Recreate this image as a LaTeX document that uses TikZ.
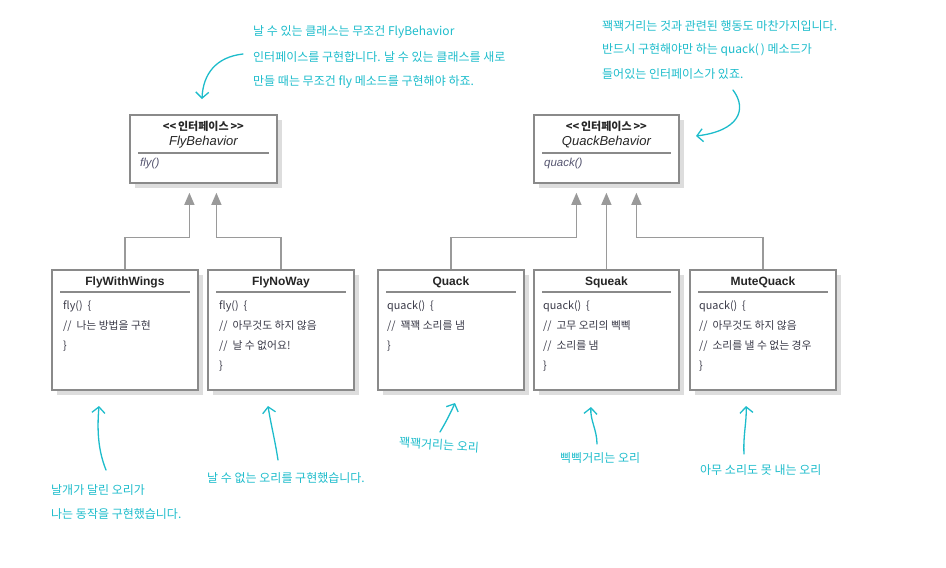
\documentclass[tikz,border=0pt]{standalone}
\usepackage{fontspec}
\setmainfont{Noto Sans CJK KR}
\newfontfamily\latf{Liberation Sans}
\newfontfamily\krf{Noto Sans CJK KR}
\usetikzlibrary{arrows.meta,calc,shadows}
\definecolor{hand}{HTML}{1DBCCB}
\definecolor{bordergray}{HTML}{8A8A8A}
\definecolor{linegray}{HTML}{9A9A9A}
\definecolor{shadowgray}{HTML}{DDDDDD}
\definecolor{codecol}{HTML}{3A3A48}
\definecolor{mcol}{HTML}{555570}
\tikzset{
  umlbox/.style={draw=bordergray, line width=1.8pt, fill=white, inner sep=0pt, anchor=north west,
    drop shadow={shadow xshift=5pt, shadow yshift=-5pt, fill=shadowgray, opacity=1}},
  ctitle/.style={font=\latf\bfseries\fontsize{12}{14}\selectfont, text=black!85, inner sep=0pt},
  ititle/.style={font=\latf\itshape\fontsize{13}{15}\selectfont, text=black!85, inner sep=0pt},
  stereo/.style={font=\krf\bfseries\fontsize{11}{13}\selectfont, text=black!85, inner sep=0pt},
  imeth/.style={font=\latf\itshape\fontsize{11.5}{13}\selectfont, text=mcol, inner sep=0pt, anchor=west},
  code/.style={font=\krf\fontsize{10.8}{12}\selectfont, text=codecol, anchor=west, inner sep=0pt},
  divider/.style={draw=bordergray, line width=1.6pt},
  inh/.style={draw=linegray, line width=1.2pt, -{Triangle[length=12pt,width=10pt,fill=linegray]}},
  handarrow/.style={draw=hand, line width=1.3pt, line cap=round,
    -{Straight Barb[length=6pt,width=13pt,line width=1.3pt]}},
  handtxt/.style={font=\krf\fontsize{12}{14}\selectfont, text=hand, anchor=west, inner sep=0pt},
}
\begin{document}
\begin{tikzpicture}[x=1pt,y=-1pt]
\useasboundingbox (0,0) rectangle (946,568);

% ---------- interface boxes ----------
\node[umlbox, minimum width=147pt, minimum height=68pt] (flyI) at (129,114) {};
\node[stereo] (flyIst) at ($(flyI.north)+(0,12)$) {<{}<\,인터페이스\,>{}>};
\node[ititle] (flyIname) at ($(flyI.north)+(0,28)$) {FlyBehavior};
\draw[divider] ($(flyI.north west)+(9,39)$) -- ($(flyI.north east)+(-9,39)$);
\node[imeth] (flyIm) at ($(flyI.north west)+(11,50)$) {fly()};

\node[umlbox, minimum width=145pt, minimum height=68pt] (quackI) at (533,114) {};
\node[stereo] (quackIst) at ($(quackI.north)+(0,12)$) {<{}<\,인터페이스\,>{}>};
\node[ititle] (quackIname) at ($(quackI.north)+(0,28)$) {QuackBehavior};
\draw[divider] ($(quackI.north west)+(9,39)$) -- ($(quackI.north east)+(-9,39)$);
\node[imeth] (quackIm) at ($(quackI.north west)+(11,50)$) {quack()};

% ---------- class boxes ----------
\node[umlbox, minimum width=146pt, minimum height=120pt] (fww) at (51,269) {};
\node[ctitle] (fwwt) at ($(fww.north)+(0,13)$) {FlyWithWings};
\draw[divider] ($(fww.north west)+(9,23)$) -- ($(fww.north east)+(-9,23)$);
\node[code] (fww1) at ($(fww.north west)+(12,37)$) {fly()\ \ \{};
\node[code] (fww2) at ($(fww.north west)+(12,57)$) {//\ \ 나는 방법을 구현};
\node[code] (fww3) at ($(fww.north west)+(12,77)$) {\}};

\node[umlbox, minimum width=146pt, minimum height=120pt] (fnw) at (207,269) {};
\node[ctitle] (fnwt) at ($(fnw.north)+(0,13)$) {FlyNoWay};
\draw[divider] ($(fnw.north west)+(9,23)$) -- ($(fnw.north east)+(-9,23)$);
\node[code] (fnw1) at ($(fnw.north west)+(12,37)$) {fly()\ \ \{};
\node[code] (fnw2) at ($(fnw.north west)+(12,57)$) {//\ \ 아무것도 하지 않음};
\node[code] (fnw3) at ($(fnw.north west)+(12,77)$) {//\ \ 날 수 없어요!};
\node[code] (fnw4) at ($(fnw.north west)+(12,97)$) {\}};

\node[umlbox, minimum width=146pt, minimum height=120pt] (qk) at (377,269) {};
\node[ctitle] (qkt) at ($(qk.north)+(0,13)$) {Quack};
\draw[divider] ($(qk.north west)+(9,23)$) -- ($(qk.north east)+(-9,23)$);
\node[code] (qk1) at ($(qk.north west)+(10,37)$) {quack()\ \ \{};
\node[code] (qk2) at ($(qk.north west)+(10,57)$) {//\ \ 꽥꽥 소리를 냄};
\node[code] (qk3) at ($(qk.north west)+(10,77)$) {\}};

\node[umlbox, minimum width=145pt, minimum height=120pt] (sq) at (533,269) {};
\node[ctitle] (sqt) at ($(sq.north)+(0,13)$) {Squeak};
\draw[divider] ($(sq.north west)+(9,23)$) -- ($(sq.north east)+(-9,23)$);
\node[code] (sq1) at ($(sq.north west)+(10,37)$) {quack()\ \ \{};
\node[code] (sq2) at ($(sq.north west)+(10,57)$) {//\ \ 고무 오리의 삑삑};
\node[code] (sq3) at ($(sq.north west)+(10,77)$) {//\ \ 소리를 냄};
\node[code] (sq4) at ($(sq.north west)+(10,97)$) {\}};

\node[umlbox, minimum width=146pt, minimum height=120pt] (mq) at (689,269) {};
\node[ctitle] (mqt) at ($(mq.north)+(0,13)$) {MuteQuack};
\draw[divider] ($(mq.north west)+(9,23)$) -- ($(mq.north east)+(-9,23)$);
\node[code] (mq1) at ($(mq.north west)+(10,37)$) {quack()\ \ \{};
\node[code] (mq2) at ($(mq.north west)+(10,57)$) {//\ \ 아무것도 하지 않음};
\node[code] (mq3) at ($(mq.north west)+(10,77)$) {//\ \ 소리를 낼 수 없는 경우};
\node[code] (mq4) at ($(mq.north west)+(10,97)$) {\}};

% ---------- inheritance connectors ----------
\draw[inh] (fww.north) |- ($(flyI.south)+(-14,54)$) -- ($(flyI.south)+(-14,9)$);
\draw[inh] (fnw.north) |- ($(flyI.south)+(13,54)$) -- ($(flyI.south)+(13,9)$);
\draw[inh] (qk.north) |- ($(quackI.south)+(-30,54)$) -- ($(quackI.south)+(-30,9)$);
\draw[inh] (sq.north) -- ($(quackI.south)+(0,9)$);
\draw[inh] (mq.north) |- ($(quackI.south)+(30,54)$) -- ($(quackI.south)+(30,9)$);

% ---------- handwritten notes ----------
\node[handtxt] (n1a) at (253,32) {날 수 있는 클래스는 무조건 FlyBehavior};
\node[handtxt] (n1b) at (253,57) {인터페이스를 구현합니다. 날 수 있는 클래스를 새로};
\node[handtxt] (n1c) at (253,82) {만들 때는 무조건 fly 메소드를 구현해야 하죠.};
\coordinate (a1s) at (243,54);
\coordinate (a1e) at (202,99);
\draw[handarrow] (a1s) .. controls (216,57) and (203,74) .. (a1e);

\node[handtxt] (n2a) at (602,26) {꽥꽥거리는 것과 관련된 행동도 마찬가지입니다.};
\node[handtxt] (n2b) at (602,50) {반드시 구현해야만 하는 quack(\,) 메소드가};
\node[handtxt] (n2c) at (602,74) {들어있는 인터페이스가 있죠.};
\coordinate (a2s) at (733,90);
\coordinate (a2e) at (696,136);
\draw[handarrow] (a2s) .. controls (748,110) and (738,131) .. (a2e);

\node[handtxt] (n3a) at (51,490) {날개가 달린 오리가};
\node[handtxt] (n3b) at (51,514) {나는 동작을 구현했습니다.};
\coordinate (a3s) at (106,470);
\coordinate (a3e) at (99,406);
\draw[handarrow] (a3s) .. controls (98,450) and (97,430) .. (a3e);

\node[handtxt] (n4) at (207,478) {날 수 없는 오리를 구현했습니다.};
\coordinate (a4s) at (278,460);
\coordinate (a4e) at (268,406);
\draw[handarrow] (a4s) .. controls (275,440) and (271,425) .. (a4e);

\node[handtxt, rotate=-4] (n5) at (399,442) {꽥꽥거리는 오리};
\coordinate (a5s) at (440,432);
\coordinate (a5e) at (455,403);
\draw[handarrow] (a5s) .. controls (446,422) and (451,412) .. (a5e);

\node[handtxt] (n6) at (560,458) {삑삑거리는 오리};
\coordinate (a6s) at (597,444);
\coordinate (a6e) at (591,407);
\draw[handarrow] (a6s) .. controls (597,430) and (590,420) .. (a6e);

\node[handtxt] (n7) at (700,470) {아무 소리도 못 내는 오리};
\coordinate (a7s) at (744,454);
\coordinate (a7e) at (746,406);
\draw[handarrow] (a7s) .. controls (743,435) and (747,420) .. (a7e);
\end{tikzpicture}
\end{document}
